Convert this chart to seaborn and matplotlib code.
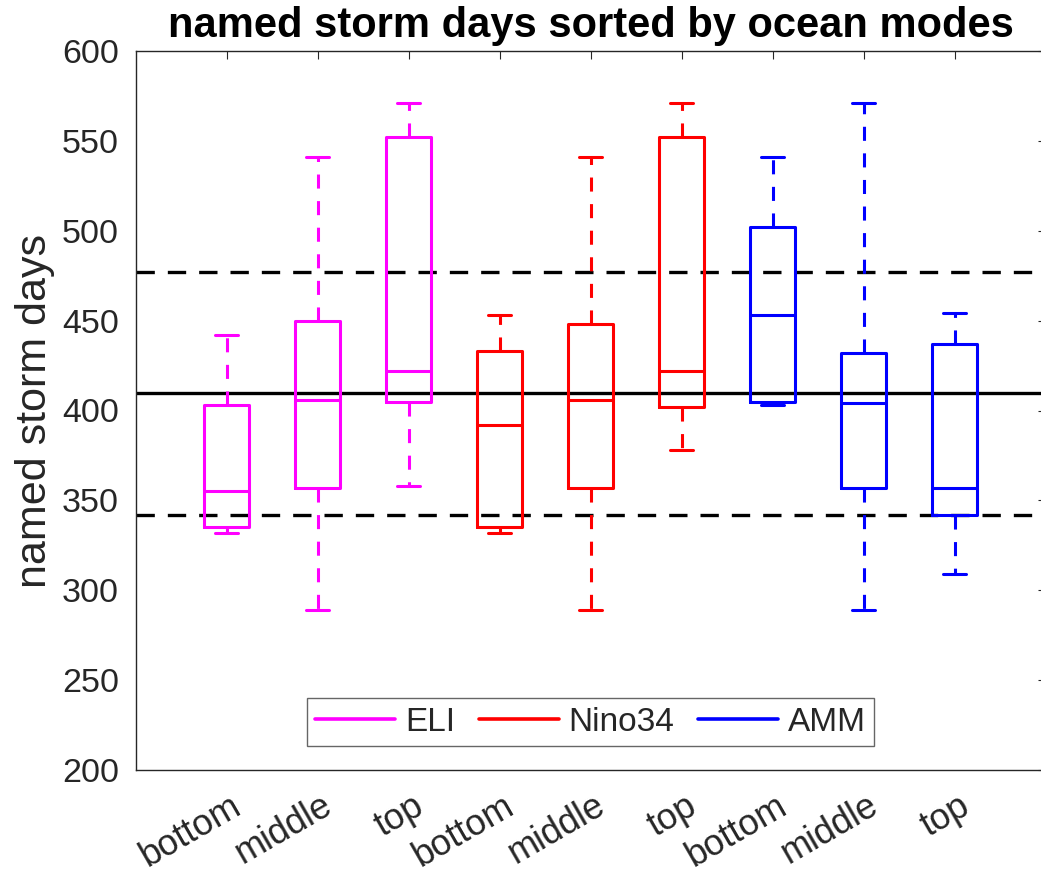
import numpy as np
import pandas as pd
import matplotlib
matplotlib.use("Agg")
import matplotlib.pyplot as plt
import matplotlib.transforms as mtransforms
from matplotlib.lines import Line2D
import seaborn as sns

# Ocean-mode groups, terciles and box summaries (whisker low, Q1, median, Q3, whisker high)
modes = ["ELI", "Nino34", "AMM"]
levels = ["bottom", "middle", "top"]
mode_colors = ["#FF00FF", "#FF0000", "#0000FF"]

eli_bottom = [332, 335, 355, 403, 442]
eli_middle = [289, 357, 406, 450, 541]
eli_top = [358, 405, 422, 552, 571]
nino_bottom = [332, 335, 392, 433, 453]
nino_middle = [289, 357, 406, 448, 541]
nino_top = [378, 402, 422, 552, 571]
amm_bottom = [403, 405, 453, 502, 541]
amm_middle = [289, 357, 404, 432, 571]
amm_top = [309, 342, 357, 437, 454]

# Climatological mean and +/- one standard deviation
clim_mean = 409.5
clim_upper = 477.0
clim_lower = 342.0

y_ticks = [200, 250, 300, 350, 400, 450, 500, 550, 600]

groups = [
    ("ELI", [eli_bottom, eli_middle, eli_top]),
    ("Nino34", [nino_bottom, nino_middle, nino_top]),
    ("AMM", [amm_bottom, amm_middle, amm_top]),
]
rows = []
pos = 1
for mode, sets in groups:
    for lev, vals in zip(levels, sets):
        for v in vals:
            rows.append({"pos": pos, "mode": mode, "level": lev, "days": v})
        pos += 1
df = pd.DataFrame(rows)

sns.set_theme(style="white")
plt.rcParams["font.family"] = ["Liberation Sans", "DejaVu Sans"]

fig = plt.figure(figsize=(10.41, 8.76), dpi=100)
ax = fig.add_axes([135.5 / 1041, 106 / 876, 910 / 1041, 719 / 876])

lw = 2.2
sns.boxplot(
    data=df, x="pos", y="days", hue="mode", hue_order=modes,
    palette=mode_colors, native_scale=True, dodge=False, fill=False,
    width=0.5, whis=(0, 100), linewidth=lw, legend=False, ax=ax,
    whiskerprops={"linestyle": (0, (4.6, 4.1))},
    showfliers=False,
)

ref_kw = dict(color="black", linewidth=2.4, zorder=1)
ax.axhline(clim_mean, **ref_kw)
ax.axhline(clim_upper, linestyle=(0, (5.5, 3.9)), **ref_kw)
ax.axhline(clim_lower, linestyle=(0, (5.5, 3.9)), **ref_kw)

ax.set_xlim(0, 10)
ax.set_ylim(200, 600)
ax.set_yticks(y_ticks)
ax.set_xticks(range(1, 10))
ax.set_xticklabels(levels * 3)

axis_col = "#262626"
for s in ax.spines.values():
    s.set_visible(True)
    s.set_color(axis_col)
    s.set_linewidth(1.0)
ax.spines["right"].set_visible(False)
ax.tick_params(axis="both", direction="in", length=6, width=0.8, color=axis_col,
               labelcolor=axis_col, top=True, right=True, labelsize=24.5)
ax.tick_params(axis="y", pad=12)
ax.tick_params(axis="x", pad=24, labelsize=26)

offset = mtransforms.ScaledTranslation(9 / 72, 0, fig.dpi_scale_trans)
for lab in ax.get_xticklabels():
    lab.set_rotation(30)
    lab.set_ha("right")
    lab.set_va("center")
    lab.set_rotation_mode("anchor")
    lab.set_transform(lab.get_transform() + offset)

ax.set_xlabel("")
ax.set_ylabel("named storm days", fontsize=31, color=axis_col, labelpad=5)
ax.set_title("named storm days sorted by ocean modes", fontsize=30,
             fontweight="bold", color="black", pad=10)

handles = [Line2D([0], [0], color=c, linewidth=2.6) for c in mode_colors]
leg = ax.legend(handles, modes, loc="lower center", bbox_to_anchor=(0.5, 24 / 719),
                ncol=3, fontsize=24, frameon=True, fancybox=False, framealpha=1,
                edgecolor="#666666", handlelength=2.4, handletextpad=0.3,
                columnspacing=0.7, borderaxespad=0, borderpad=0.25)
leg.get_frame().set_linewidth(1.0)

fig.savefig("out.png", dpi=100)
